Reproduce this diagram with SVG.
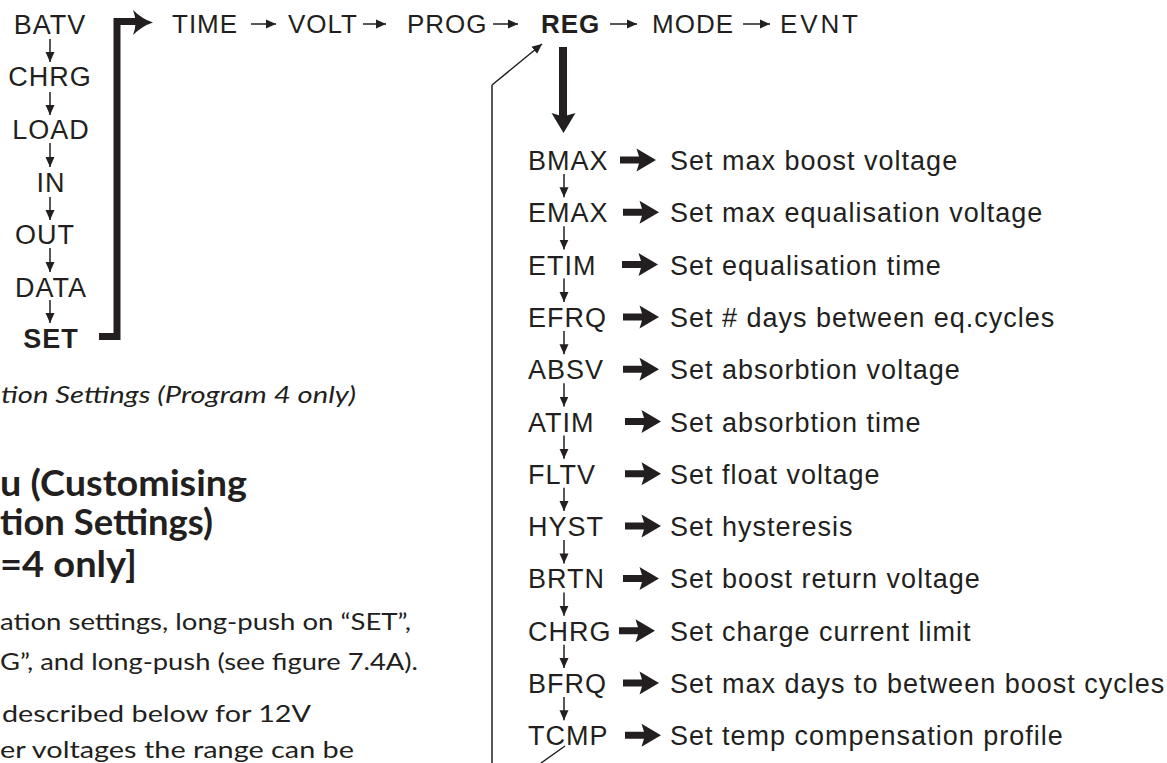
<svg xmlns="http://www.w3.org/2000/svg" width="1167" height="763" viewBox="0 0 1167 763">
<style>
.h{font-family:"Liberation Sans",Arial,Helvetica,sans-serif;font-size:27px;fill:#231f20;letter-spacing:1px}
.t{font-size:26px}
.b{font-weight:bold}
.g{font-family:Lato,"Open Sans",sans-serif;fill:#231f20}
.ln{stroke:#231f20;stroke-width:1.5;fill:none}
.fill{fill:#231f20}
</style>
<defs>
<marker id="ah" markerUnits="userSpaceOnUse" markerWidth="11" markerHeight="10" refX="10" refY="4.5" orient="auto" viewBox="0 0 11 9">
<path d="M0,0 L10,4.5 L0,9 Z" fill="#231f20"/>
</marker>
<path id="ta" d="M0,-3.5 H19 L16.5,-11.5 L36,0 L16.5,11.5 L19,3.5 H0 Z" fill="#231f20"/>
</defs>

<!-- left column nodes -->
<g id="n-batv"><text class="h" x="50" y="34" text-anchor="middle">BATV</text></g>
<g id="n-chrg1"><text class="h" x="50" y="86" text-anchor="middle">CHRG</text></g>
<g id="n-load"><text class="h" x="51" y="139" text-anchor="middle">LOAD</text></g>
<g id="n-in"><text class="h" x="51" y="192" text-anchor="middle">IN</text></g>
<g id="n-out"><text class="h" x="45" y="244" text-anchor="middle">OUT</text></g>
<g id="n-data"><text class="h" x="51" y="297" text-anchor="middle">DATA</text></g>
<g id="n-set"><text class="h b" x="51" y="348" text-anchor="middle">SET</text></g>

<!-- top row nodes -->
<g id="n-time"><text class="h t" x="172" y="33">TIME</text></g>
<g id="n-volt"><text class="h t" x="288" y="33">VOLT</text></g>
<g id="n-prog"><text class="h t" x="407" y="33">PROG</text></g>
<g id="n-reg"><text class="h t b" x="541" y="33">REG</text></g>
<g id="n-mode"><text class="h t" x="652" y="33">MODE</text></g>
<g id="n-evnt"><text class="h t" x="780" y="33" textLength="79" lengthAdjust="spacing">EVNT</text></g>

<!-- list nodes -->
<g id="n-bmax"><text class="h" x="528" y="170">BMAX</text><text class="h" x="670" y="170">Set max boost voltage</text></g>
<g id="n-emax"><text class="h" x="528" y="222.3">EMAX</text><text class="h" x="670" y="222.3">Set max equalisation voltage</text></g>
<g id="n-etim"><text class="h" x="528" y="274.6">ETIM</text><text class="h" x="670" y="274.6">Set equalisation time</text></g>
<g id="n-efrq"><text class="h" x="528" y="326.9">EFRQ</text><text class="h" x="670" y="326.9">Set # days between eq.cycles</text></g>
<g id="n-absv"><text class="h" x="528" y="379.2">ABSV</text><text class="h" x="670" y="379.2">Set absorbtion voltage</text></g>
<g id="n-atim"><text class="h" x="528" y="431.5">ATIM</text><text class="h" x="670" y="431.5">Set absorbtion time</text></g>
<g id="n-fltv"><text class="h" x="528" y="483.8">FLTV</text><text class="h" x="670" y="483.8">Set float voltage</text></g>
<g id="n-hyst"><text class="h" x="528" y="536.1">HYST</text><text class="h" x="670" y="536.1">Set hysteresis</text></g>
<g id="n-brtn"><text class="h" x="528" y="588.4">BRTN</text><text class="h" x="670" y="588.4">Set boost return voltage</text></g>
<g id="n-chrg2"><text class="h" x="528" y="640.7">CHRG</text><text class="h" x="670" y="640.7">Set charge current limit</text></g>
<g id="n-bfrq"><text class="h" x="528" y="693">BFRQ</text><text class="h" x="670" y="693">Set max days to between boost cycles</text></g>
<g id="n-tcmp"><text class="h" x="528" y="745.3">TCMP</text><text class="h" x="670" y="745.3">Set temp compensation profile</text></g>

<!-- connectors -->
<g id="connectors">
<g class="ln" marker-end="url(#ah)">
<line x1="50" y1="39" x2="50" y2="62"/>
<line x1="50" y1="92" x2="50" y2="115"/>
<line x1="50" y1="143" x2="50" y2="167"/>
<line x1="50" y1="197" x2="50" y2="220"/>
<line x1="50" y1="248" x2="50" y2="272"/>
<line x1="50" y1="300" x2="50" y2="323"/>
<line x1="251" y1="24" x2="276" y2="24"/>
<line x1="363" y1="24" x2="386" y2="24"/>
<line x1="493" y1="24" x2="518" y2="24"/>
<line x1="610" y1="24" x2="637" y2="24"/>
<line x1="743" y1="24" x2="770" y2="24"/>
<line x1="564" y1="174" x2="564" y2="197.3"/>
<line x1="564" y1="226.3" x2="564" y2="249.6"/>
<line x1="564" y1="278.6" x2="564" y2="301.9"/>
<line x1="564" y1="330.9" x2="564" y2="354.2"/>
<line x1="564" y1="383.2" x2="564" y2="406.5"/>
<line x1="564" y1="435.5" x2="564" y2="458.8"/>
<line x1="564" y1="487.8" x2="564" y2="511.1"/>
<line x1="564" y1="540.1" x2="564" y2="563.4"/>
<line x1="564" y1="592.4" x2="564" y2="615.7"/>
<line x1="564" y1="644.7" x2="564" y2="668"/>
<line x1="564" y1="697" x2="564" y2="720.3"/>
<line x1="492" y1="85" x2="542" y2="44"/>
</g>
<polyline class="ln" points="492,763 492,85"/>
<line class="ln" x1="565" y1="746" x2="541" y2="763"/>
<!-- bracket from SET to TIME -->
<polyline points="99,336.5 117,336.5 117,21.5 137,21.5" fill="none" stroke="#231f20" stroke-width="7" stroke-linejoin="miter"/>
<path class="fill" d="M133,10 Q142,19 153,22.5 Q142,26 133,35 Q138,22.5 133,10 Z"/>
<!-- thick down arrow from REG -->
<rect class="fill" x="559" y="47" width="8" height="70"/>
<path class="fill" d="M551.5,113 L563,116.5 L575.5,113 L563.5,133 Z"/>
<!-- thick right arrows -->
<use href="#ta" x="620" y="160"/>
<use href="#ta" x="623" y="212.3"/>
<use href="#ta" x="622" y="264.6"/>
<use href="#ta" x="623" y="316.9"/>
<use href="#ta" x="623" y="369.2"/>
<use href="#ta" x="625" y="421.5"/>
<use href="#ta" x="625" y="473.8"/>
<use href="#ta" x="625" y="526.1"/>
<use href="#ta" x="623" y="578.4"/>
<use href="#ta" x="619" y="630.7"/>
<use href="#ta" x="623" y="683"/>
<use href="#ta" x="625" y="735.3"/>
</g>

<!-- page text (cut off at left) -->
<g id="caption"><text class="g" x="1" y="403" font-size="23" font-style="italic" textLength="355" lengthAdjust="spacingAndGlyphs">tion Settings (Program 4 only)</text></g>
<g id="heading">
<text class="g" x="0" y="496" font-size="37" font-weight="bold" textLength="247" lengthAdjust="spacingAndGlyphs">u (Customising</text>
<text class="g" x="0" y="535" font-size="37" font-weight="bold" textLength="213" lengthAdjust="spacingAndGlyphs">tion Settings)</text>
<text class="g" x="0" y="577" font-size="37" font-weight="bold" textLength="137" lengthAdjust="spacingAndGlyphs">=4 only]</text>
</g>
<g id="body">
<text class="g" x="0" y="630" font-size="24" textLength="411" lengthAdjust="spacingAndGlyphs">ation settings, long-push on “SET”,</text>
<text class="g" x="0" y="670" font-size="24" textLength="418" lengthAdjust="spacingAndGlyphs">G”, and long-push (see figure 7.4A).</text>
<text class="g" x="2" y="722" font-size="24" textLength="309" lengthAdjust="spacingAndGlyphs">described below for 12V</text>
<text class="g" x="0" y="758" font-size="24" textLength="354" lengthAdjust="spacingAndGlyphs">er voltages the range can be</text>
</g>
</svg>
